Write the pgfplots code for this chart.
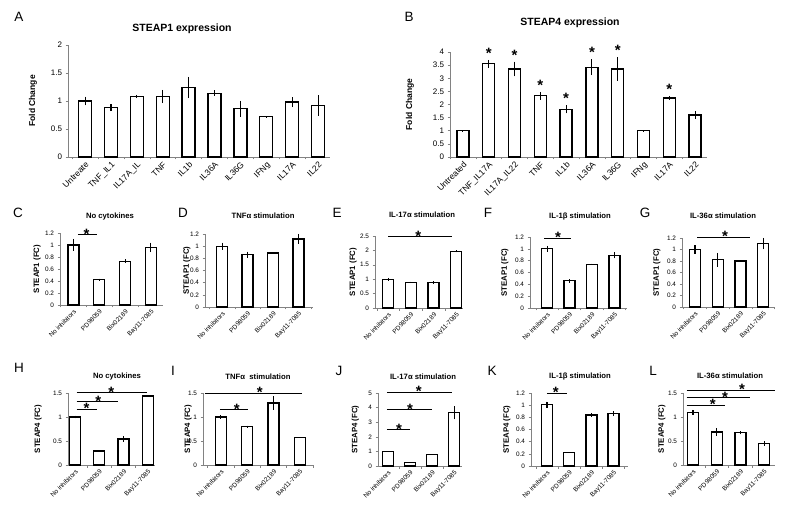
\documentclass[border=0pt]{standalone}
\usepackage{fontspec}
\setmainfont{Liberation Sans}
\usepackage{pgfplots}
\pgfplotsset{compat=1.18}
\definecolor{axgray}{RGB}{130,130,130}
\pgfplotsset{
 panel/.style={scale only axis, ymin=0, clip=false,
  axis x line*=bottom, axis y line*=left,
  axis line style={draw=axgray, line width=0.7pt},
  tick align=outside, major tick length=2.5pt,
  ytick style={draw=axgray, line width=0.6pt},
  xtick style={draw=none},
  /pgf/number format/assume math mode=true,
  tick label style={font=\fontsize{6.4}{6.4}\selectfont},
  xtick={0,1,2,3},
  xticklabels={No inhibitors,PD98059,Bix02189,Bay11-7085},
  x tick label style={rotate=45, anchor=north east, inner sep=1pt},
  extra x ticks={-0.5,0.5,1.5,2.5,3.5},
  extra x tick labels={},
  extra x tick style={xtick style={draw=axgray, line width=0.6pt}},
  ylabel style={font=\bfseries\fontsize{7.8}{8}\selectfont, anchor=center},
 },
 bigpanel/.style={panel, tick label style={font=\fontsize{8}{8}\selectfont}, xtick={0,...,9},
  x tick label style={font=\fontsize{8.5}{8.5}\selectfont},
  extra x ticks={-0.5,0.5,...,9.5},
  ylabel style={font=\bfseries\fontsize{8.5}{9}\selectfont}},
 bars/.style={ybar, bar width=#1, draw=black, fill=white, line width=1.3pt,
  error bars/.cd, y dir=both, y explicit, error mark=none,
  error bar style={line width=1.1pt, black}},
 sig/.style={black, line width=1pt, forget plot},
}
\tikzset{
 star/.style={font=\bfseries\fontsize{15}{15}\selectfont, anchor=base, inner sep=0pt, yshift=-4.5pt},
 bstar/.style={font=\bfseries\fontsize{15}{15}\selectfont, anchor=base, inner sep=0pt, yshift=1.5pt},
 letter/.style={font=\fontsize{13.5}{14}\selectfont, inner sep=0pt},
 ttl/.style={font=\bfseries\fontsize{7.7}{8}\selectfont, inner sep=0pt},
}
\begin{document}
\begin{tikzpicture}
\path[use as bounding box] (0pt,0pt) rectangle (800pt,-510pt);

% ---------- A ----------
\begin{axis}[bigpanel, at={(68pt,-157pt)}, anchor=south west, width=262pt, height=112pt,
  xmin=-0.66, xmax=9.46, ymax=2, ytick={0,0.5,1,1.5,2},
  xticklabels={Untreate,TNF\_IL1,IL17A\_IL,TNF,IL1b,IL36A,IL36G,IFNg,IL17A,IL22},
  ylabel={Fold Change}, ylabel style={at={(axis description cs:-0.134,0.5)}}]
\addplot[bars=13pt] coordinates {(0,1.00)+-(0,0.08) (1,0.88)+-(0,0.06) (2,1.08)+-(0,0.03) (3,1.08)+-(0,0.12) (4,1.24)+-(0,0.19) (5,1.14)+-(0,0.05) (6,0.86)+-(0,0.14) (7,0.72)+-(0,0.01) (8,0.98)+-(0,0.09) (9,0.92)+-(0,0.18)};
\end{axis}

% ---------- B ----------
\begin{axis}[bigpanel, at={(450pt,-157pt)}, anchor=south west, width=257pt, height=105pt,
  xmin=-0.5, xmax=9.46, ymax=4, ytick={0,0.5,...,4},
  xticklabels={Untreated,TNF\_IL17A,IL17A\_IL22,TNF,IL1b,IL36A,IL36G,IFNg,IL17A,IL22},
  ylabel={Fold Change}, ylabel style={at={(axis description cs:-0.156,0.5)}}]
\addplot[bars=12pt] coordinates {(0,1.00)+-(0,0.02) (1,3.55)+-(0,0.15) (2,3.35)+-(0,0.28) (3,2.33)+-(0,0.15) (4,1.82)+-(0,0.16) (5,3.42)+-(0,0.30) (6,3.35)+-(0,0.45) (7,1.00)+-(0,0.02) (8,2.25)+-(0,0.06) (9,1.60)+-(0,0.14)};
\node[bstar] at (axis cs:1,3.70) {*};
\node[bstar] at (axis cs:2,3.63) {*};
\node[bstar] at (axis cs:3,2.48) {*};
\node[bstar] at (axis cs:4,1.98) {*};
\node[bstar] at (axis cs:5,3.72) {*};
\node[bstar] at (axis cs:6,3.80) {*};
\node[bstar] at (axis cs:8,2.31) {*};
\end{axis}

% ---------- C ----------
\begin{axis}[panel, at={(60pt,-305pt)}, anchor=south west, width=103pt, height=72pt,
  xmin=-0.52, xmax=3.47, ymax=1.2, ytick={0,0.2,...,1.2},
  ylabel={STEAP1 (FC)}, ylabel style={at={(axis description cs:-0.223,0.5)}}]
\addplot[bars=11pt] coordinates {(0,1.00)+-(0,0.10) (1,0.42)+-(0,0.02) (2,0.73)+-(0,0.03) (3,0.96)+-(0,0.08)};
\addplot[sig] coordinates {(0.17,1.17) (0.91,1.17)};
\node[star] at (axis cs:0.51,1.17) {*};
\end{axis}

% ---------- D ----------
\begin{axis}[panel, at={(205pt,-307pt)}, anchor=south west, width=108pt, height=73pt,
  xmin=-0.67, xmax=3.57, ymax=1.2, ytick={0,0.2,...,1.2},
  ylabel={STEAP1 (FC)}, ylabel style={at={(axis description cs:-0.167,0.5)}}]
\addplot[bars=11pt] coordinates {(0,1.00)+-(0,0.06) (1,0.86)+-(0,0.05) (2,0.89)+-(0,0.01) (3,1.12)+-(0,0.08)};
\end{axis}

% ---------- E ----------
\begin{axis}[panel, at={(375pt,-308pt)}, anchor=south west, width=88pt, height=72pt,
  xmin=-0.58, xmax=3.3, ymax=2.5, ytick={0,0.5,...,2.5},
  ylabel={STEAP1 (FC)}, ylabel style={at={(axis description cs:-0.25,0.5)}}]
\addplot[bars=11pt] coordinates {(0,1.00)+-(0,0.05) (1,0.89)+-(0,0.03) (2,0.88)+-(0,0.05) (3,1.97)+-(0,0.04)};
\addplot[sig] coordinates {(0,2.48) (2.83,2.48)};
\node[star] at (axis cs:1.33,2.48) {*};
\end{axis}

% ---------- F ----------
\begin{axis}[panel, at={(530pt,-308pt)}, anchor=south west, width=97pt, height=71pt,
  xmin=-0.76, xmax=3.56, ymax=1.2, ytick={0,0.2,...,1.2},
  ylabel={STEAP1 (FC)}, ylabel style={at={(axis description cs:-0.258,0.5)}}]
\addplot[bars=11pt] coordinates {(0,1.00)+-(0,0.05) (1,0.46)+-(0,0.03) (2,0.74)+-(0,0.01) (3,0.89)+-(0,0.05)};
\addplot[sig] coordinates {(-0.13,1.18) (1.07,1.18)};
\node[star] at (axis cs:0.49,1.18) {*};
\end{axis}

% ---------- G ----------
\begin{axis}[panel, at={(682pt,-307pt)}, anchor=south west, width=93pt, height=69pt,
  xmin=-0.57, xmax=3.52, ymax=1.2, ytick={0,0.2,...,1.2},
  ylabel={STEAP1 (FC)}, ylabel style={at={(axis description cs:-0.27,0.5)}}]
\addplot[bars=11pt] coordinates {(0,1.00)+-(0,0.07) (1,0.82)+-(0,0.12) (2,0.80)+-(0,0.01) (3,1.10)+-(0,0.10)};
\addplot[sig] coordinates {(0.09,1.21) (2.42,1.21)};
\node[star] at (axis cs:1.32,1.21) {*};
\end{axis}

% ---------- H ----------
\begin{axis}[panel, at={(68pt,-465pt)}, anchor=south west, width=87pt, height=72pt,
  xmin=-0.29, xmax=3.3, ymax=1.5, ytick={0,0.5,1,1.5},
  ylabel={STEAP4 (FC)}, ylabel style={at={(axis description cs:-0.345,0.5)}}]
\addplot[bars=11pt] coordinates {(0,1.00)+-(0,0.03) (1,0.29)+-(0,0) (2,0.54)+-(0,0.06) (3,1.44)+-(0,0)};
\addplot[sig] coordinates {(0.07,1.16) (0.89,1.16)};
\addplot[sig] coordinates {(0.07,1.32) (1.78,1.32)};
\addplot[sig] coordinates {(0.07,1.51) (2.95,1.51)};
\node[star] at (axis cs:0.48,1.16) {*};
\node[star] at (axis cs:0.96,1.32) {*};
\node[star] at (axis cs:1.50,1.51) {*};
\end{axis}

% ---------- I ----------
\begin{axis}[panel, at={(203pt,-465pt)}, anchor=south west, width=110pt, height=72pt,
  xmin=-0.68, xmax=3.5, ymax=1.5, ytick={0,0.5,1,1.5},
  ylabel={STEAP4 (FC)}, ylabel style={at={(axis description cs:-0.136,0.5)}}]
\addplot[bars=11pt] coordinates {(0,1.00)+-(0,0.04) (1,0.80)+-(0,0.02) (2,1.29)+-(0,0.14) (3,0.57)+-(0,0)};
\addplot[sig] coordinates {(-0.04,1.15) (1.03,1.15)};
\addplot[sig] coordinates {(-0.61,1.50) (3.08,1.50)};
\node[star] at (axis cs:0.60,1.15) {*};
\node[star] at (axis cs:1.48,1.50) {*};
\end{axis}

% ---------- J ----------
\begin{axis}[panel, at={(378pt,-466pt)}, anchor=south west, width=84pt, height=73pt,
  xmin=-0.45, xmax=3.36, ymax=5, ytick={0,1,...,5},
  ylabel={STEAP4 (FC)}, ylabel style={at={(axis description cs:-0.27,0.5)}}]
\addplot[bars=11pt] coordinates {(0,1.00)+-(0,0) (1,0.22)+-(0,0) (2,0.78)+-(0,0) (3,3.65)+-(0,0.45)};
\addplot[sig] coordinates {(-0.05,2.50) (1.00,2.50)};
\addplot[sig] coordinates {(-0.05,3.84) (2.00,3.84)};
\addplot[sig] coordinates {(-0.05,5.05) (2.90,5.05)};
\node[star] at (axis cs:0.50,2.50) {*};
\node[star] at (axis cs:1.00,3.84) {*};
\node[star] at (axis cs:1.40,5.05) {*};
\end{axis}

% ---------- K ----------
\begin{axis}[panel, at={(531pt,-466pt)}, anchor=south west, width=97pt, height=73pt,
  xmin=-0.72, xmax=3.65, ymax=1.2, ytick={0,0.2,...,1.2},
  ylabel={STEAP4 (FC)}, ylabel style={at={(axis description cs:-0.25,0.5)}}]
\addplot[bars=11pt] coordinates {(0,1.01)+-(0,0.05) (1,0.22)+-(0,0) (2,0.84)+-(0,0.03) (3,0.86)+-(0,0.04)};
\addplot[sig] coordinates {(0,1.20) (0.90,1.20)};
\node[star] at (axis cs:0.40,1.20) {*};
\end{axis}

% ---------- L ----------
\begin{axis}[panel, at={(683pt,-465pt)}, anchor=south west, width=92pt, height=72pt,
  xmin=-0.42, xmax=3.46, ymax=1.5, ytick={0,0.5,1,1.5},
  ylabel={STEAP4 (FC)}, ylabel style={at={(axis description cs:-0.23,0.5)}}]
\addplot[bars=11pt] coordinates {(0,1.10)+-(0,0.05) (1,0.69)+-(0,0.08) (2,0.67)+-(0,0.03) (3,0.45)+-(0,0.05)};
\addplot[sig] coordinates {(-0.27,1.25) (1.35,1.25)};
\addplot[sig] coordinates {(-0.27,1.40) (2.40,1.40)};
\addplot[sig] coordinates {(-0.27,1.56) (3.46,1.56)};
\node[star] at (axis cs:0.84,1.25) {*};
\node[star] at (axis cs:1.35,1.40) {*};
\node[star] at (axis cs:2.07,1.56) {*};
\end{axis}

% ---------- letters and titles ----------
\node[letter] at (19pt,-17pt) {A};
\node[letter] at (409pt,-17pt) {B};
\node[font=\bfseries\fontsize{10.5}{11}\selectfont, inner sep=0pt] at (182pt,-29pt) {STEAP1 expression};
\node[font=\bfseries\fontsize{10.5}{11}\selectfont, inner sep=0pt] at (570pt,-23pt) {STEAP4 expression};

\node[letter] at (18pt,-213pt) {C};
\node[letter] at (183pt,-213pt) {D};
\node[letter] at (337pt,-213pt) {E};
\node[letter] at (488pt,-213pt) {F};
\node[letter] at (645pt,-213pt) {G};
\node[ttl] at (110pt,-217pt) {No cytokines};
\node[ttl] at (263pt,-216pt) {TNFα stimulation};
\node[ttl] at (422pt,-215pt) {IL-17α stimulation};
\node[ttl] at (580pt,-217pt) {IL-1β stimulation};
\node[ttl] at (723pt,-216pt) {IL-36α stimulation};

\node[letter] at (19pt,-368pt) {H};
\node[letter] at (173pt,-371pt) {I};
\node[letter] at (339pt,-371pt) {J};
\node[letter] at (492pt,-371pt) {K};
\node[letter] at (653pt,-371pt) {L};
\node[ttl] at (117pt,-377pt) {No cytokines};
\node[ttl] at (258pt,-377pt) {TNFα~~stimulation};
\node[ttl] at (423pt,-377pt) {IL-17α stimulation};
\node[ttl] at (580pt,-377pt) {IL-1β stimulation};
\node[ttl] at (730pt,-376pt) {IL-36α stimulation};
\end{tikzpicture}
\end{document}
